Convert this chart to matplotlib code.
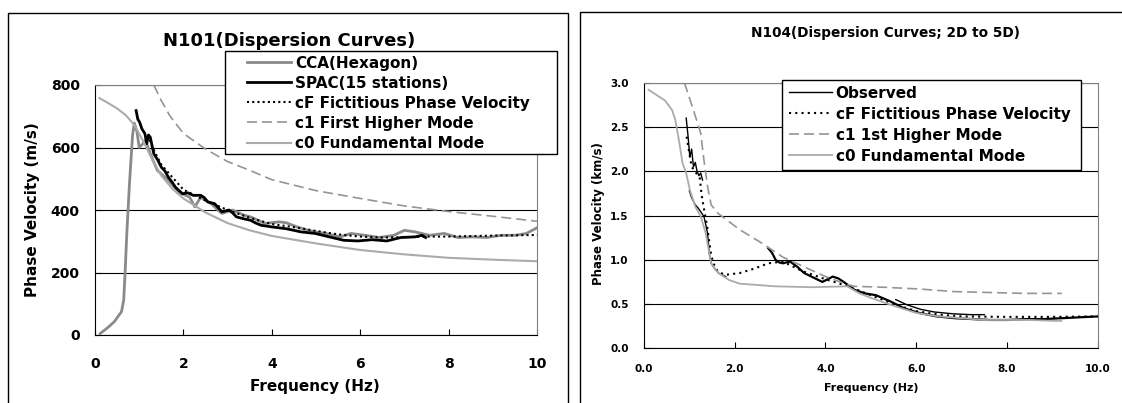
import matplotlib
matplotlib.use("Agg")
import matplotlib.pyplot as plt
from matplotlib.patches import Rectangle

plt.rcParams['font.family'] = ['DejaVu Sans']
plt.rcParams['font.weight'] = 'bold'

W, H = 1122, 403

# ---- N101 data (Hz, m/s) ----
cca_f = [0.12, 0.30, 0.44, 0.60, 0.65, 0.68, 0.72, 0.78, 0.85, 0.89, 0.95, 1.00, 1.07, 1.13, 1.19, 1.25,
         1.41, 1.66, 1.90, 2.14, 2.26, 2.39, 2.63, 2.87, 3.11, 3.36, 3.52, 3.84, 4.17, 4.33, 4.57,
         4.80, 4.98, 5.22, 5.55, 5.79, 6.11, 6.44, 6.76, 7.00, 7.24, 7.57, 7.90, 8.21, 8.54, 8.86,
         9.19, 9.51, 9.76, 10.0]
cca_v = [5, 25, 43, 75, 112, 197, 325, 485, 640, 678, 650, 600, 610, 622, 605, 580,
         527, 495, 457, 441, 410, 441, 420, 389, 400, 384, 378, 357, 362, 359, 346,
         336, 330, 325, 314, 325, 319, 312, 319, 335, 330, 319, 325, 312, 314, 312,
         319, 319, 325, 343]

spac_f = [0.93, 0.97, 1.01, 1.06, 1.13, 1.17, 1.21, 1.25, 1.33, 1.42, 1.50, 1.58, 1.66, 1.74, 1.82, 1.98,
          2.10, 2.22, 2.39, 2.47, 2.55, 2.71, 2.87, 3.03, 3.12, 3.20, 3.36, 3.52, 3.64, 3.76, 4.00,
          4.33, 4.66, 4.98, 5.30, 5.63, 5.95, 6.27, 6.60, 6.92, 7.24, 7.40, 7.48]
spac_v = [718, 690, 681, 660, 644, 612, 640, 633, 580, 560, 537, 525, 505, 490, 473, 452,
          455, 447, 447, 440, 426, 420, 394, 400, 390, 378, 372, 367, 358, 351, 346,
          340, 330, 325, 314, 303, 301, 305, 301, 312, 314, 319, 312]

cf1_f = [1.20, 1.30, 1.50, 1.75, 2.0, 2.5, 3.0, 3.5, 4.0, 4.5, 5.0, 5.5, 6.0, 6.5, 7.0, 7.5, 8.0, 9.0, 10.0]
cf1_v = [640, 600, 545, 505, 465, 430, 400, 375, 355, 345, 333, 322, 315, 312, 313, 315, 315, 318, 320]

c1a_f = [1.33, 1.5, 1.7, 2.0, 2.5, 3.0, 3.5, 4.0, 5.0, 6.0, 7.0, 8.0, 9.0, 10.0]
c1a_v = [800, 750, 700, 645, 595, 555, 527, 497, 462, 437, 413, 395, 380, 364]

c0a_f = [0.1, 0.3, 0.5, 0.7, 0.9, 1.1, 1.3, 1.5, 1.75, 2.0, 2.5, 3.0, 3.5, 4.0, 5.0, 6.0, 7.0, 8.0, 9.0, 10.0]
c0a_v = [758, 742, 725, 703, 670, 618, 560, 510, 468, 437, 392, 358, 335, 317, 293, 272, 258, 247, 241, 236]

# ---- N104 data (Hz, km/s) ----
obs_a_f = [0.93, 0.97, 1.01, 1.05, 1.09, 1.13, 1.17, 1.21, 1.25, 1.29]
obs_a_v = [2.60, 2.40, 2.16, 2.25, 2.05, 2.10, 2.00, 1.95, 1.98, 1.90]
obs_b_f = [1.00, 1.05, 1.13, 1.20, 1.28, 1.32, 1.36, 1.40, 1.44, 1.48, 1.56, 1.64, 1.72, 1.80]
obs_b_v = [1.78, 1.70, 1.62, 1.58, 1.52, 1.49, 1.40, 1.30, 1.07, 0.96, 0.90, 0.85, 0.83, 0.81]
obs_c_f = [2.74, 2.82, 2.90, 2.98, 3.06, 3.22, 3.38, 3.53, 3.69, 3.93, 4.05, 4.16, 4.28, 4.40, 4.64,
           4.87, 5.11, 5.43, 5.74, 6.06, 6.45, 6.85, 7.24, 7.63, 8.02, 8.42, 8.81, 9.21, 9.60, 10.0]
obs_c_v = [1.13, 1.08, 1.00, 0.97, 0.96, 0.98, 0.92, 0.85, 0.81, 0.75, 0.78, 0.81, 0.79, 0.75, 0.66,
           0.62, 0.60, 0.53, 0.45, 0.40, 0.36, 0.34, 0.33, 0.32, 0.32, 0.33, 0.33, 0.34, 0.35, 0.36]
obs_d_f = [5.55, 5.80, 6.10, 6.40, 6.80, 7.20, 7.50]
obs_d_v = [0.55, 0.49, 0.44, 0.41, 0.39, 0.38, 0.38]

cf2_f = [0.94, 1.00, 1.05, 1.15, 1.23, 1.27, 1.32, 1.40, 1.48, 1.56, 1.64, 1.80, 2.11, 2.43, 2.74,
         3.06, 3.50, 4.0, 4.5, 5.0, 5.5, 6.0, 6.5, 7.0, 8.0, 9.0, 10.0]
cf2_v = [2.39, 2.20, 2.05, 1.98, 1.92, 1.73, 1.58, 1.35, 1.05, 0.92, 0.86, 0.83, 0.85, 0.90, 0.96,
         0.98, 0.87, 0.78, 0.70, 0.60, 0.50, 0.42, 0.38, 0.36, 0.355, 0.355, 0.36]

c1b_f = [0.89, 1.09, 1.25, 1.32, 1.40, 1.48, 1.64, 2.11, 2.59, 3.06, 3.53, 4.0, 4.48, 4.64, 5.27,
         6.06, 6.85, 7.63, 8.42, 9.21]
c1b_v = [3.00, 2.69, 2.43, 2.13, 1.83, 1.62, 1.52, 1.34, 1.19, 1.03, 0.92, 0.81, 0.72, 0.70, 0.69,
         0.67, 0.64, 0.63, 0.62, 0.62]

c0b_f = [0.10, 0.46, 0.62, 0.69, 0.77, 0.85, 0.93, 1.01, 1.13, 1.25, 1.36, 1.44, 1.48, 1.64, 1.88,
         2.11, 2.90, 3.69, 4.48, 4.75, 5.0, 5.5, 6.0, 6.5, 7.0, 7.5, 8.0, 8.5, 9.0, 9.2]
c0b_v = [2.92, 2.80, 2.69, 2.58, 2.35, 2.09, 1.98, 1.79, 1.60, 1.49, 1.30, 1.07, 0.96, 0.85, 0.77,
         0.73, 0.70, 0.69, 0.70, 0.62, 0.57, 0.48, 0.40, 0.36, 0.34, 0.32, 0.32, 0.32, 0.31, 0.31]

GRAY_CCA = '#8a8a8a'
GRAY_C1 = '#959595'
GRAY_C0 = '#ababab'

fig = plt.figure(figsize=(W / 100, H / 100), dpi=100)

# panel frames
fig.add_artist(Rectangle((8 / W, -0.05), (567.7 - 8) / W, (403 - 13.3) / H + 0.05,
                         transform=fig.transFigure, fill=False, ec='black', lw=1.0))
fig.add_artist(Rectangle((580 / W, -0.05), 0.6, (403 - 12.3) / H + 0.05,
                         transform=fig.transFigure, fill=False, ec='black', lw=1.0))


def style_axes(ax):
    ax.grid(axis='y', color='black', lw=0.8)
    ax.set_axisbelow(True)
    for s in ['top', 'right']:
        ax.spines[s].set_color('#808080')
    for s in ['left', 'bottom']:
        ax.spines[s].set_color('black')
    ax.tick_params(direction='in', length=4, width=0.8)


# ---- left chart ----
ax1 = fig.add_axes([95 / W, (403 - 335) / H, 442 / W, 250 / H])
style_axes(ax1)
l_cca, = ax1.plot(cca_f, cca_v, color=GRAY_CCA, lw=2.0)
l_spac, = ax1.plot(spac_f, spac_v, color='black', lw=2.0)
l_cf1, = ax1.plot(cf1_f, cf1_v, color='black', lw=1.5, ls=(0, (1, 1.5)))
l_c1a, = ax1.plot(c1a_f, c1a_v, color=GRAY_C1, lw=1.2, ls=(0, (6, 3)))
l_c0a, = ax1.plot(c0a_f, c0a_v, color=GRAY_C0, lw=1.5)
ax1.set_xlim(0, 10)
ax1.set_ylim(0, 800)
ax1.set_xticks([0, 2, 4, 6, 8, 10])
ax1.set_yticks([0, 200, 400, 600, 800])
ax1.tick_params(axis='x', pad=16, labelsize=10)
ax1.tick_params(axis='y', pad=11, labelsize=10)
ax1.set_xlabel('Frequency (Hz)', fontsize=11, fontweight='bold', va='center')
ax1.xaxis.set_label_coords(0.498, -0.208)
ax1.set_ylabel('Phase Velocity (m/s)', fontsize=11, fontweight='bold', va='center')
ax1.yaxis.set_label_coords(-0.1425, 0.5)
fig.text(289 / W, 1 - 40.7 / H, 'N101(Dispersion Curves)', ha='center', va='center',
         fontsize=13, fontweight='bold')

fig.add_artist(Rectangle((225.4 / W, 1 - 154.3 / H), (557 - 225.4) / W, (154.3 - 50.7) / H,
                         transform=fig.transFigure, fc='white', ec='black', lw=1.0, zorder=5))
leg1 = fig.legend([l_cca, l_spac, l_cf1, l_c1a, l_c0a],
                  ['CCA(Hexagon)', 'SPAC(15 stations)', 'cF Fictitious Phase Velocity',
                   'c1 First Higher Mode', 'c0 Fundamental Mode'],
                  loc='upper left', bbox_to_anchor=(247 / W, 1 - 55.7 / H), frameon=False,
                  borderpad=0, borderaxespad=0, handlelength=2.9, handletextpad=0.25,
                  labelspacing=0.33, prop={'size': 11, 'weight': 'bold'})
leg1.set_zorder(6)

# ---- right chart ----
ax2 = fig.add_axes([644 / W, (403 - 348.3) / H, 453.7 / W, 265.6 / H])
style_axes(ax2)
l_obs, = ax2.plot(obs_a_f, obs_a_v, color='black', lw=1.0)
ax2.plot(obs_b_f, obs_b_v, color='black', lw=1.0)
ax2.plot(obs_c_f, obs_c_v, color='black', lw=1.6)
ax2.plot(obs_d_f, obs_d_v, color='black', lw=1.0)
l_cf2, = ax2.plot(cf2_f, cf2_v, color='black', lw=1.5, ls=(0, (1, 2)))
l_c1b, = ax2.plot(c1b_f, c1b_v, color=GRAY_C1, lw=1.2, ls=(0, (6, 3)))
l_c0b, = ax2.plot(c0b_f, c0b_v, color=GRAY_C0, lw=1.3)
ax2.set_xlim(0, 10)
ax2.set_ylim(0, 3.0)
ax2.set_xticks([0, 2, 4, 6, 8, 10])
ax2.set_xticklabels(['0.0', '2.0', '4.0', '6.0', '8.0', '10.0'])
ax2.set_yticks([0, 0.5, 1.0, 1.5, 2.0, 2.5, 3.0])
ax2.set_yticklabels(['0.0', '0.5', '1.0', '1.5', '2.0', '2.5', '3.0'])
ax2.tick_params(axis='x', pad=11, labelsize=7.5)
ax2.tick_params(axis='y', pad=11, labelsize=7.5)
ax2.set_xlabel('Frequency (Hz)', fontsize=8, fontweight='bold', va='center')
ax2.xaxis.set_label_coords(0.501, -0.149)
ax2.set_ylabel('Phase Velocity (km/s)', fontsize=8.5, fontweight='bold', va='center')
ax2.yaxis.set_label_coords(-0.1, 0.509)
fig.text(885 / W, 1 - 33 / H, 'N104(Dispersion Curves; 2D to 5D)', ha='center', va='center',
         fontsize=9.8, fontweight='bold')

fig.add_artist(Rectangle((781.7 / W, 1 - 170 / H), (1081 - 781.7) / W, (170 - 80.3) / H,
                         transform=fig.transFigure, fc='white', ec='black', lw=1.0, zorder=5))
leg2 = fig.legend([l_obs, l_cf2, l_c1b, l_c0b],
                  ['Observed', 'cF Fictitious Phase Velocity', 'c1 1st Higher Mode',
                   'c0 Fundamental Mode'],
                  loc='upper left', bbox_to_anchor=(789 / W, 1 - 85.7 / H), frameon=False,
                  borderpad=0, borderaxespad=0, handlelength=2.8, handletextpad=0.25,
                  labelspacing=0.39, prop={'size': 11, 'weight': 'bold'})
leg2.set_zorder(6)

fig.savefig('out.png', dpi=100)
